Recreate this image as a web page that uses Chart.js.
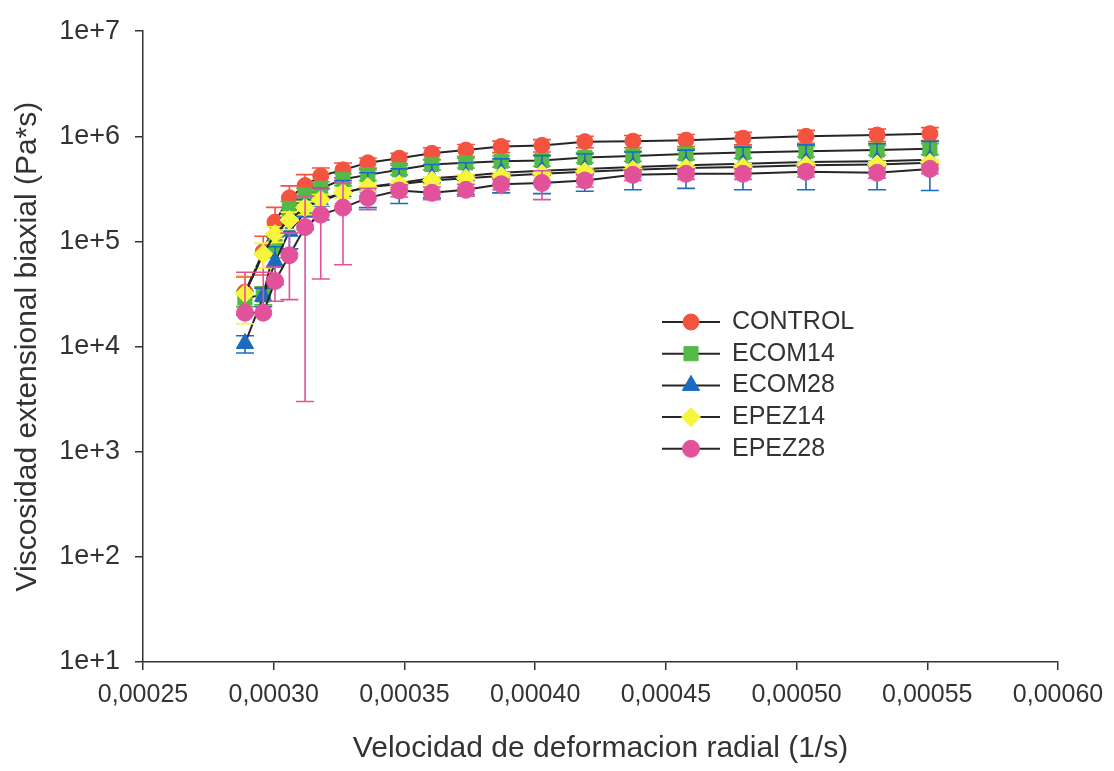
<!DOCTYPE html>
<html>
<head>
<meta charset="utf-8">
<script src="https://cdn.jsdelivr.net/npm/chart.js@4.4.1/dist/chart.umd.min.js"></script>
<style>
  html, body { margin: 0; padding: 0; background: #fff; }
</style>
</head>
<body>
<canvas id="grafico" width="1114" height="771"></canvas>
<script>
// Velocidad de deformacion radial (1/s) de cada columna de puntos
const velocidad = [0.000289, 0.000296, 0.0003005, 0.000306, 0.000312, 0.000318, 0.0003265, 0.000336, 0.000348, 0.0003605,
                   0.0003735, 0.000387, 0.0004026, 0.000419, 0.0004374, 0.0004577, 0.0004795, 0.0005036, 0.0005308, 0.000551];

// Viscosidad (Pa*s) y desviacion estandar de cada muestra
const control   = [3.3e4, 8.0e4, 1.53e5, 2.6e5, 3.4e5, 4.2e5, 4.8e5, 5.6e5, 6.2e5, 6.9e5, 7.4e5, 8.0e5, 8.2e5, 8.9e5, 9.0e5, 9.2e5, 9.6e5, 1.0e6, 1.03e6, 1.06e6];
const controlSD = [1.3e4, 3.2e4, 5.8e4, 7.8e4, 9.2e4, 8.0e4, 7.7e4, 6.2e4, 6.8e4, 9.0e4, 9.6e4, 1.0e5, 1.1e5, 1.1e5, 1.2e5, 1.2e5, 1.3e5, 1.4e5, 1.4e5, 1.5e5];
const ecom14    = [2.9e4, 3.1e4, 9.0e4, 2.0e5, 2.7e5, 3.2e5, 3.9e5, 4.3e5, 4.8e5, 5.4e5, 5.6e5, 5.8e5, 5.9e5, 6.3e5, 6.5e5, 6.8e5, 7.0e5, 7.2e5, 7.4e5, 7.6e5];
const ecom14SD  = [5e3, 6e3, 2e4, 4e4, 5e4, 5e4, 5e4, 5e4, 5e4, 6e4, 6e4, 7e4, 7e4, 7e4, 7e4, 8e4, 8e4, 8e4, 8e4, 9e4];
const ecom28    = [1.07e4, 3.0e4, 6.4e4, 1.25e5, 1.9e5, 2.4e5, 2.9e5, 3.3e5, 3.6e5, 4.0e5, 4.2e5, 4.5e5, 4.7e5, 4.9e5, 5.1e5, 5.3e5, 5.5e5, 5.7e5, 5.8e5, 6.0e5];
const ecom28SD  = [2e3, 6e3, 2.5e4, 4e4, 6e4, 8e4, 9e4, 1.2e5, 1.3e5, 1.4e5, 1.4e5, 1.6e5, 1.85e5, 1.9e5, 2.0e5, 2.1e5, 2.4e5, 2.6e5, 2.7e5, 2.95e5];
const epez14    = [3.2e4, 7.6e4, 1.18e5, 1.6e5, 2.1e5, 2.5e5, 2.9e5, 3.3e5, 3.5e5, 3.8e5, 4.0e5, 4.2e5, 4.4e5, 4.6e5, 4.8e5, 5.0e5, 5.1e5, 5.3e5, 5.4e5, 5.6e5];
const epez14SD  = [1.55e4, 2e4, 2e4, 3e4, 3e4, 3e4, 3e4, 3e4, 3e4, 3e4, 3e4, 3e4, 3e4, 4e4, 4e4, 4e4, 4e4, 4e4, 4e4, 4e4];
const epez28    = [2.1e4, 2.1e4, 4.2e4, 7.4e4, 1.37e5, 1.8e5, 2.1e5, 2.6e5, 3.05e5, 2.9e5, 3.1e5, 3.5e5, 3.6e5, 3.8e5, 4.3e5, 4.4e5, 4.4e5, 4.6e5, 4.5e5, 4.9e5];
const epez28SD  = [3.0e4, 3.0e4, 1.5e4, 4.6e4, 1.34e5, 1.36e5, 1.5e5, 6e4, 4e4, 4e4, 4e4, 4e4, 1.1e5, 5e4, 5e4, 5e4, 5e4, 5e4, 5e4, 5e4];

const ticksX = [0.00025, 0.00030, 0.00035, 0.00040, 0.00045, 0.00050, 0.00055, 0.00060];
const ticksY = [1e1, 1e2, 1e3, 1e4, 1e5, 1e6, 1e7];

const fuente = '"Liberation Sans", Arial, sans-serif';
const gris = '#333333';

function serie(nombre, valores, sd, color, estilo, radio, orden) {
  return {
    label: nombre,
    data: valores.map((v, i) => ({ x: velocidad[i], y: v })),
    errores: sd,
    borderColor: '#262626',
    borderWidth: 2,
    pointStyle: estilo,
    pointRadius: radio,
    pointBackgroundColor: color,
    pointBorderColor: color,
    pointBorderWidth: 1,
    tension: 0,
    order: orden
  };
}

// Barras de error (desviacion estandar), dibujadas antes de cada serie
const barrasError = {
  id: 'barrasError',
  beforeDatasetDraw(chart, args) {
    const ds = chart.data.datasets[args.index];
    const xs = chart.scales.x, ys = chart.scales.y;
    const ctx = chart.ctx;
    ctx.save();
    ctx.strokeStyle = ds.pointBackgroundColor;
    ctx.lineWidth = 1.6;
    ds.data.forEach((p, i) => {
      const px = xs.getPixelForValue(p.x);
      const arriba = ys.getPixelForValue(p.y + ds.errores[i]);
      const bajo = p.y - ds.errores[i];
      const abajo = bajo > 0 ? ys.getPixelForValue(bajo) : ys.getPixelForValue(p.y);
      ctx.beginPath();
      ctx.moveTo(px, arriba); ctx.lineTo(px, abajo);
      ctx.moveTo(px - 9, arriba); ctx.lineTo(px + 9, arriba);
      if (bajo > 0) { ctx.moveTo(px - 9, abajo); ctx.lineTo(px + 9, abajo); }
      ctx.stroke();
    });
    ctx.restore();
  }
};

// Leyenda con linea y marcador, dentro del area del grafico
const leyenda = {
  id: 'leyenda',
  afterDraw(chart, args, opts) {
    const ctx = chart.ctx;
    chart.data.datasets.forEach((ds, i) => {
      const y = opts.y + i * opts.paso;
      ctx.save();
      ctx.strokeStyle = ds.borderColor;
      ctx.lineWidth = 2;
      ctx.beginPath();
      ctx.moveTo(opts.x, y); ctx.lineTo(opts.x + opts.largo, y);
      ctx.stroke();
      ctx.fillStyle = ds.pointBackgroundColor;
      ctx.strokeStyle = ds.pointBorderColor;
      ctx.lineWidth = 1;
      Chart.helpers.drawPoint(ctx, { pointStyle: ds.pointStyle, radius: ds.pointRadius, borderWidth: 1, rotation: 0 }, opts.x + opts.largo / 2, y);
      ctx.fillStyle = gris;
      ctx.font = '25px ' + fuente;
      ctx.textBaseline = 'middle';
      ctx.textAlign = 'left';
      ctx.fillText(ds.label, opts.x + opts.largo + 12, y);
      ctx.restore();
    });
  }
};

const ctx = document.getElementById('grafico').getContext('2d');
const grafico = new Chart(ctx, {
  type: 'line',
  data: {
    datasets: [
      serie('CONTROL', control, controlSD, '#f4533f', 'circle', 8, 5),
      serie('ECOM14', ecom14, ecom14SD, '#55b947', 'rect', 10, 4),
      serie('ECOM28', ecom28, ecom28SD, '#1b6cc0', 'triangle', 10, 3),
      serie('EPEZ14', epez14, epez14SD, '#f7f43c', 'rectRot', 9.5, 2),
      serie('EPEZ28', epez28, epez28SD, '#e2529b', 'circle', 8.5, 1)
    ]
  },
  options: {
    responsive: false,
    animation: false,
    devicePixelRatio: 1,
    layout: { padding: { top: 21, right: 56, left: 0, bottom: 0 } },
    plugins: {
      legend: { display: false },
      tooltip: { enabled: false },
      leyenda: { x: 662, y: 322, paso: 31.7, largo: 58 }
    },
    scales: {
      x: {
        type: 'linear',
        min: 0.00025,
        max: 0.0006,
        afterBuildTicks: s => { s.ticks = ticksX.map(v => ({ value: v })); },
        afterFit: s => { s.height = 109; },
        grid: { drawOnChartArea: false, drawTicks: true, tickLength: 8, color: gris, lineWidth: 1.5 },
        border: { display: true, color: gris, width: 1.5 },
        ticks: {
          callback: v => v.toFixed(5).replace('.', ','),
          font: { family: fuente, size: 25 },
          color: gris,
          padding: 10,
          maxRotation: 0,
          autoSkip: false
        },
        title: {
          display: true,
          text: 'Velocidad de deformacion radial (1/s)',
          font: { family: fuente, size: 30 },
          color: gris,
          padding: { top: 0, bottom: 4 }
        }
      },
      y: {
        type: 'logarithmic',
        min: 10,
        max: 1e7,
        afterBuildTicks: s => { s.ticks = ticksY.map(v => ({ value: v })); },
        afterFit: s => { s.width = 143; },
        grid: { drawOnChartArea: false, drawTicks: true, tickLength: 8, color: gris, lineWidth: 1.5 },
        border: { display: true, color: gris, width: 1.5 },
        ticks: {
          callback: v => '1e+' + Math.round(Math.log10(v)),
          font: { family: fuente, size: 27 },
          color: gris,
          padding: 15,
          autoSkip: false
        },
        title: {
          display: true,
          text: 'Viscosidad extensional biaxial (Pa*s)',
          font: { family: fuente, size: 30 },
          color: gris,
          padding: { top: 10, bottom: 0 }
        }
      }
    }
  },
  plugins: [barrasError, leyenda]
});
</script>
</body>
</html>
